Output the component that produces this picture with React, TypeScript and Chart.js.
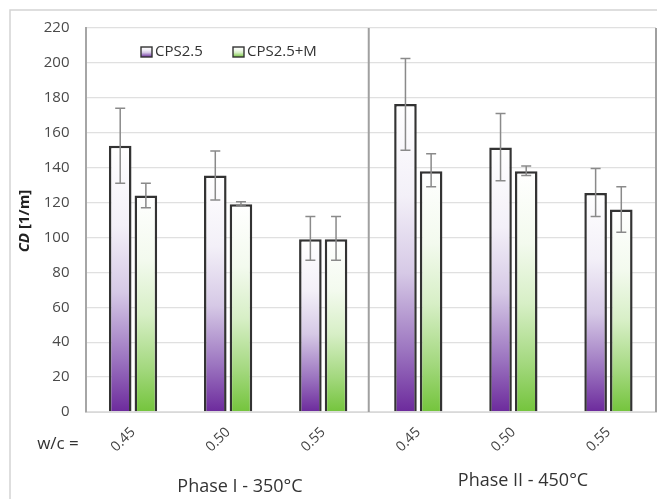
import React, { useEffect, useRef } from "react";
import { Chart, registerables } from "chart.js";

Chart.register(...registerables);

const categories = ["0.45", "0.50", "0.55", "0.45", "0.50", "0.55"];
const seriesNames = ["CPS2.5", "CPS2.5+M"];
const cpsValues = [152.5, 135.5, 99, 176.5, 151.5, 125.5];
const cpsErrLow = [131, 121.5, 87, 150, 132.5, 112];
const cpsErrHigh = [174, 149.5, 112, 202.5, 171, 139.5];
const cpsmValues = [124, 119, 99, 138, 138, 116];
const cpsmErrLow = [117, 118, 87, 129, 135.5, 103];
const cpsmErrHigh = [131, 120.5, 112, 148, 141, 129];
const yTicks = [0, 20, 40, 60, 80, 100, 120, 140, 160, 180, 200, 220];
const phaseLabels = ["Phase I - 350°C", "Phase II - 450°C"];

const FONT = "'Open Sans', 'DejaVu Sans', sans-serif";

const purpleStops: [number, string][] = [
  [0, "#6c2a9c"],
  [0.2, "#9c75c0"],
  [0.45, "#d6c9e6"],
  [0.7, "#f3f0f8"],
  [1, "#ffffff"],
];
const greenStops: [number, string][] = [
  [0, "#74c43c"],
  [0.2, "#a3d87e"],
  [0.45, "#d7efc6"],
  [0.7, "#f3faee"],
  [1, "#ffffff"],
];

function gradFill(stops: [number, string][]) {
  return (context: any) => {
    const chart = context.chart;
    const area = chart.chartArea;
    if (!area || context.type !== "data") return stops[0][1];
    const y = chart.scales.y;
    const top = y.getPixelForValue(context.raw);
    const bot = y.getPixelForValue(0);
    const g = chart.ctx.createLinearGradient(0, bot, 0, top);
    stops.forEach(([o, c]) => g.addColorStop(o, c));
    return g;
  };
}

const decorPlugin = {
  id: "decor",
  beforeDraw(chart: any) {
    const c = chart.ctx;
    c.save();
    c.strokeStyle = "#d4d4d4";
    c.lineWidth = 1.5;
    c.strokeRect(10, 10, 700, 600);
    c.restore();
  },
  afterDatasetsDraw(chart: any) {
    const c = chart.ctx;
    const area = chart.chartArea;
    const x = chart.scales.x;
    const y = chart.scales.y;
    // dividers
    c.save();
    c.strokeStyle = "#a0a0a0";
    c.lineWidth = 2;
    [2.5, 5.5].forEach((v) => {
      let px = x.getPixelForValue(v) - 2;
      if (v === 5.5) px = area.right;
      c.beginPath();
      c.moveTo(px, area.top);
      c.lineTo(px, area.bottom);
      c.stroke();
    });
    // error bars
    const errs = [
      [cpsErrLow, cpsErrHigh],
      [cpsmErrLow, cpsmErrHigh],
    ];
    c.strokeStyle = "#8a8a8a";
    c.lineWidth = 1.5;
    errs.forEach(([lo, hi], di) => {
      const meta = chart.getDatasetMeta(di);
      meta.data.forEach((el: any, i: number) => {
        const px = el.x;
        const yl = y.getPixelForValue(lo[i]);
        const yh = y.getPixelForValue(hi[i]);
        c.beginPath();
        c.moveTo(px, yl);
        c.lineTo(px, yh);
        c.moveTo(px - 5, yl);
        c.lineTo(px + 5, yl);
        c.moveTo(px - 5, yh);
        c.lineTo(px + 5, yh);
        c.stroke();
      });
    });
    c.restore();

    // legend
    c.save();
    const legendItems = [
      { x: 141, stops: purpleStops, text: seriesNames[0] },
      { x: 233, stops: greenStops, text: seriesNames[1] },
    ];
    legendItems.forEach((it) => {
      const g = c.createLinearGradient(0, 57, 0, 47);
      it.stops.forEach(([o, col]) => g.addColorStop(o, col));
      c.fillStyle = g;
      c.fillRect(it.x, 47, 11, 10);
      c.strokeStyle = "#333";
      c.lineWidth = 1.4;
      c.strokeRect(it.x, 47, 11, 10);
      c.fillStyle = "#333";
      c.font = `15px ${FONT}`;
      c.textAlign = "left";
      c.textBaseline = "middle";
      c.fillText(it.text, it.x + 14, 52);
    });

    // y title
    c.translate(25, 221);
    c.rotate(-Math.PI / 2);
    c.fillStyle = "#222";
    c.textBaseline = "middle";
    c.font = `italic bold 15px ${FONT}`;
    const w1 = c.measureText("CD").width;
    c.font = `bold 15px ${FONT}`;
    const w2 = c.measureText(" [1/m]").width;
    const start = -(w1 + w2) / 2;
    c.textAlign = "left";
    c.font = `italic bold 15px ${FONT}`;
    c.fillText("CD", start, 0);
    c.font = `bold 15px ${FONT}`;
    c.fillText(" [1/m]", start + w1, 0);
    c.restore();

    // bottom texts
    c.save();
    c.fillStyle = "#333";
    c.textBaseline = "middle";
    c.textAlign = "center";
    c.font = `17px ${FONT}`;
    c.fillText("w/c =", 58, 444);
    c.font = `18px ${FONT}`;
    c.fillText(phaseLabels[0], 240, 487);
    c.fillText(phaseLabels[1], 523, 481);
    c.restore();
  },
};

export default function App() {
  const ref = useRef<HTMLCanvasElement | null>(null);
  useEffect(() => {
    if (!ref.current) return;
    const chart = new Chart(ref.current, {
      type: "bar",
      data: {
        labels: categories,
        datasets: [
          {
            label: seriesNames[0],
            data: cpsValues,
            backgroundColor: gradFill(purpleStops),
            borderColor: "#333333",
            borderWidth: 2.5,
            categoryPercentage: 0.54,
            barPercentage: 0.88,
          },
          {
            label: seriesNames[1],
            data: cpsmValues,
            backgroundColor: gradFill(greenStops),
            borderColor: "#333333",
            borderWidth: 2.5,
            categoryPercentage: 0.54,
            barPercentage: 0.88,
          },
        ],
      },
      options: {
        animation: false,
        responsive: false,
        maintainAspectRatio: false,
        layout: { padding: { top: 28, right: 1, left: 0, bottom: 0 } },
        plugins: {
          legend: { display: false },
          tooltip: { enabled: false },
        },
        scales: {
          x: {
            grid: { display: false, drawTicks: false },
            border: { display: true, color: "#d9d9d9", width: 1 },
            ticks: {
              autoSkip: false,
              minRotation: 45,
              maxRotation: 45,
              padding: 12,
              color: "#444",
              font: { family: FONT, size: 14 },
            },
            afterFit: (s: any) => {
              s.height = 87;
            },
          },
          y: {
            min: 0,
            max: 220,
            afterBuildTicks: (s: any) => {
              s.ticks = yTicks.map((v) => ({ value: v }));
            },
            grid: { color: "#e0e0e0", lineWidth: 1.3, drawTicks: false },
            border: { display: true, color: "#a6a6a6", width: 2 },
            ticks: {
              padding: 16,
              color: "#4a4a4a",
              font: { family: FONT, size: 15 },
            },
            afterFit: (s: any) => {
              s.width = 85.5;
            },
          },
        },
      },
      plugins: [decorPlugin],
    });
    return () => chart.destroy();
  }, []);
  return (
    <div style={{ position: "fixed", left: 0, top: 0, width: 657, height: 499, background: "#fff" }}>
      <canvas ref={ref} width={657} height={499} style={{ display: "block" }} />
    </div>
  );
}
